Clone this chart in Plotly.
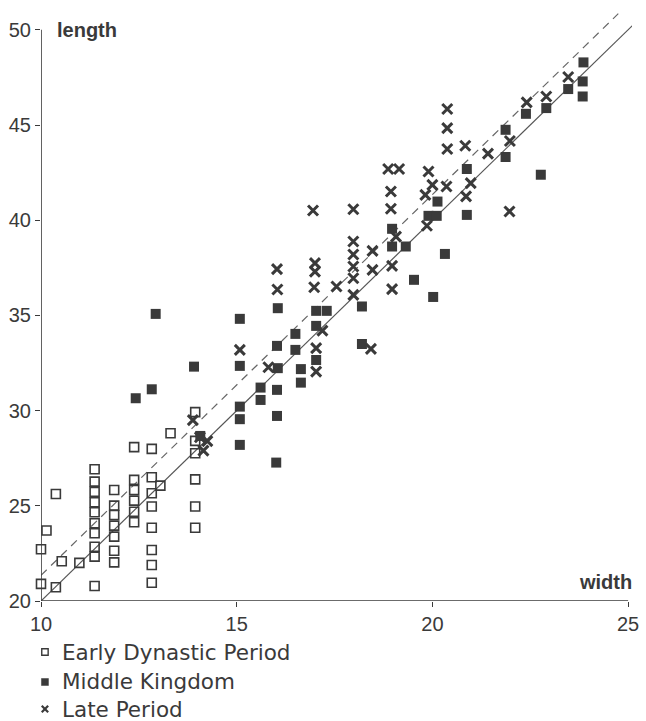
import plotly.graph_objects as go

# ---------------- data ----------------
ed_x = [10.0, 10.38, 10.0, 10.14, 10.38, 10.53, 10.98,
        11.37, 11.37, 11.37, 11.37, 11.37, 11.37, 11.37, 11.37, 11.37, 11.37,
        11.87, 11.87, 11.87, 11.87, 11.87, 11.87, 11.87,
        12.38, 12.38, 12.38, 12.38, 12.38, 12.38,
        12.83, 12.83, 12.83, 12.83, 12.83, 12.83, 12.83, 12.83,
        13.05, 13.31,
        13.94, 13.94, 13.94, 13.94, 13.94, 13.94]
ed_y = [20.9, 20.72, 22.72, 23.7, 25.62, 22.09, 22.0,
        26.92, 26.27, 25.73, 25.19, 24.66, 24.08, 23.56, 22.85, 22.33, 20.79,
        25.83, 25.01, 24.52, 23.96, 23.38, 22.64, 22.03,
        28.08, 26.36, 25.83, 25.27, 24.69, 24.14,
        27.99, 26.5, 25.66, 24.96, 23.85, 22.68, 21.89, 20.96,
        26.06, 28.81,
        29.92, 28.41, 27.76, 26.39, 24.96, 23.85]

mk_x = [12.42, 12.83, 12.93, 13.91, 14.07,
        15.08, 15.08, 15.08, 15.08, 15.08,
        15.61, 15.61,
        16.05, 16.03, 16.05, 16.03, 16.03, 16.01,
        16.5, 16.5, 16.64, 16.64,
        17.03, 17.3, 17.03, 17.03,
        18.2, 18.2,
        18.97, 18.97, 19.32,
        19.53, 20.02,
        19.9, 20.11, 20.13, 20.32,
        20.88, 20.88,
        21.87, 21.87, 22.77,
        22.39, 22.91, 23.47, 23.86, 23.84, 23.84]
mk_y = [30.65, 31.12, 35.08, 32.31, 28.67,
        34.82, 32.35, 30.21, 29.55, 28.2,
        31.21, 30.56,
        35.38, 33.4, 32.23, 31.09, 29.72, 27.27,
        34.03, 33.19, 32.18, 31.47,
        35.24, 35.24, 34.45, 32.66,
        35.47, 33.5,
        39.55, 38.62, 38.62,
        36.87, 35.97,
        40.23, 40.23, 40.98, 38.23,
        42.69, 40.28,
        44.75, 43.32, 42.39,
        45.59, 45.89, 46.89, 48.29, 47.29, 46.5]

lp_x = [13.88, 14.06, 14.25, 14.15,
        15.08, 15.81,
        16.04, 16.03,
        16.95, 17.0, 17.0, 16.98, 17.19, 17.03, 17.03,
        17.55,
        17.98, 17.98, 17.98, 17.98, 17.98, 17.98,
        18.43, 18.47, 18.47,
        18.87, 19.15, 18.94, 18.94, 18.97, 18.97, 19.07,
        19.9, 20.0, 19.82, 19.86,
        20.38, 20.38, 20.38, 20.36,
        20.84, 20.98, 20.86,
        21.42, 21.98, 21.97,
        22.41, 22.91, 23.47]
lp_y = [29.5, 28.6, 28.4, 27.9,
        33.19, 32.28,
        36.36, 37.43,
        40.51, 37.75, 37.3, 36.48, 34.2, 33.28, 32.05,
        36.52,
        40.58, 38.88, 38.2, 37.57, 36.95, 36.08,
        33.24, 38.39, 37.39,
        42.69, 42.69, 41.51, 40.6, 37.6, 36.38, 39.14,
        42.56, 41.86, 41.33, 39.71,
        45.84, 44.84, 43.74, 41.77,
        43.91, 41.95, 41.25,
        43.5, 44.16, 40.46,
        46.19, 46.5, 47.52]

# reference lines: solid (length = 2 x width) and dashed (shifted)
solid_x = [10.0, 25.15]
solid_y = [20.0, 50.3]
dashed_x = [10.0, 24.75]
dashed_y = [21.35, 50.85]

x_ticks = [10, 15, 20, 25]
y_ticks = [20, 25, 30, 35, 40, 45, 50]

legend_names = ["Early Dynastic Period", "Middle Kingdom", "Late Period"]

INK = "#3a3a3a"

# figure geometry (pixels)
W, H = 646, 721
ML, MR, MT, MB = 41, 7, 7, 120
PW, PH = W - ML - MR, H - MT - MB


def px_to_paper_x(px):
    return (px - ML) / PW


def py_to_paper_y(py):
    return (H - MB - py) / PH


fig = go.Figure()

fig.add_trace(go.Scatter(x=solid_x, y=solid_y, mode="lines",
                         line=dict(color="#555555", width=1.2),
                         showlegend=False, hoverinfo="skip"))
fig.add_trace(go.Scatter(x=dashed_x, y=dashed_y, mode="lines",
                         line=dict(color="#666666", width=1.2, dash="8px,6px"),
                         showlegend=False, hoverinfo="skip"))

fig.add_trace(go.Scatter(x=ed_x, y=ed_y, mode="markers", name=legend_names[0],
                         marker=dict(symbol="square-open", size=9,
                                     color=INK, line=dict(width=1.6, color=INK)),
                         cliponaxis=False))
fig.add_trace(go.Scatter(x=mk_x, y=mk_y, mode="markers", name=legend_names[1],
                         marker=dict(symbol="square", size=10, color=INK,
                                     line=dict(width=0)),
                         cliponaxis=False))
fig.add_trace(go.Scatter(x=lp_x, y=lp_y, mode="markers", name=legend_names[2],
                         marker=dict(symbol="x-thin", size=10,
                                     line=dict(width=3, color=INK), color=INK),
                         cliponaxis=False))

# axis lines drawn only over the labelled range
fig.add_shape(type="line", xref="x", yref="y", x0=10, x1=10, y0=20, y1=50,
              line=dict(color=INK, width=1.6), layer="above")
fig.add_shape(type="line", xref="x", yref="y", x0=10, x1=25, y0=20, y1=20,
              line=dict(color=INK, width=1.6), layer="above")

fig.add_annotation(text="<b>length</b>", xref="paper", yref="paper",
                   x=px_to_paper_x(55), y=py_to_paper_y(30),
                   xanchor="left", yanchor="middle", showarrow=False,
                   font=dict(family="Liberation Sans", size=20, color=INK))
fig.add_annotation(text="<b>width</b>", xref="paper", yref="paper",
                   x=px_to_paper_x(641), y=py_to_paper_y(582),
                   xanchor="right", yanchor="middle", showarrow=False,
                   font=dict(family="Liberation Sans", size=20, color=INK))

# legend drawn below the plot (keys + labels)
legend_rows_py = [652, 682, 709]
key_px, text_px = 45, 61
for i, (name, row) in enumerate(zip(legend_names, legend_rows_py)):
    ky = py_to_paper_y(row)
    kx = px_to_paper_x(key_px)
    fig.add_annotation(text=name, xref="paper", yref="paper",
                       x=px_to_paper_x(text_px), y=ky, xanchor="left",
                       yanchor="middle", showarrow=False, borderpad=0,
                       font=dict(family="DejaVu Sans", size=21.5, color=INK))
    common = dict(xref="paper", yref="paper", xsizemode="pixel",
                  ysizemode="pixel", xanchor=kx, yanchor=ky)
    if i == 0:
        fig.add_shape(type="rect", x0=-3.2, x1=3.2, y0=-3.2, y1=3.2,
                      line=dict(color=INK, width=1.4), fillcolor="white",
                      **common)
    elif i == 1:
        fig.add_shape(type="rect", x0=-3.5, x1=3.5, y0=-3.5, y1=3.5,
                      line=dict(color=INK, width=0.5), fillcolor=INK,
                      **common)
    else:
        fig.add_shape(type="line", x0=-3.2, x1=3.2, y0=-3.2, y1=3.2,
                      line=dict(color=INK, width=2.2), **common)
        fig.add_shape(type="line", x0=-3.2, x1=3.2, y0=3.2, y1=-3.2,
                      line=dict(color=INK, width=2.2), **common)

fig.update_layout(
    width=W, height=H,
    margin=dict(l=ML, r=MR, t=MT, b=MB),
    paper_bgcolor="white", plot_bgcolor="white",
    font=dict(family="Liberation Sans", size=20, color=INK),
    showlegend=False,
)
fig.update_xaxes(range=[10, 25.1], tickvals=x_ticks, ticks="outside", ticklen=5,
                 tickwidth=1.4, tickcolor=INK, showline=False, showgrid=False,
                 zeroline=False, tickfont=dict(size=20, color=INK),
                 ticklabeloverflow="allow")
fig.update_yaxes(range=[20, 51.2], tickvals=y_ticks, ticks="outside", ticklen=5,
                 tickwidth=1.4, tickcolor=INK, showline=False, showgrid=False,
                 zeroline=False, tickfont=dict(size=20, color=INK),
                 ticklabeloverflow="allow")

fig.write_html("out.html")
